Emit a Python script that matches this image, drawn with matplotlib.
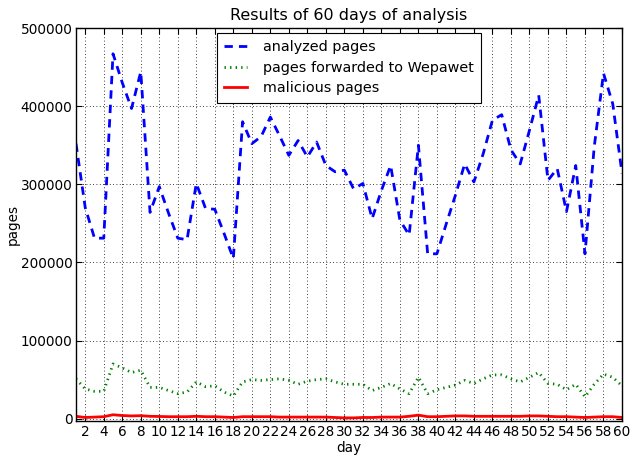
import matplotlib
matplotlib.use("Agg")
import matplotlib.pyplot as plt
import numpy as np

days = list(range(1, 61))
analyzed = [352000, 270000, 231000, 231000, 467000, 430000, 397000, 444000, 264000, 297000,
            263000, 231000, 229000, 301000, 269000, 268000, 237000, 205000, 380000, 352000,
            361000, 386000, 362000, 337000, 356000, 335000, 354000, 324000, 316000, 318000,
            294000, 301000, 256000, 292000, 324000, 254000, 235000, 350000, 211000, 211000,
            249000, 286000, 326000, 303000, 339000, 382000, 389000, 344000, 326000, 369000,
            414000, 305000, 320000, 265000, 324000, 211000, 348000, 442000, 403000, 314000]
forwarded = [51000, 38000, 35000, 35000, 70000, 65000, 59000, 62000, 40000, 40000,
             36000, 32000, 34000, 47000, 41000, 42000, 34000, 29000, 47000, 50000,
             49000, 50000, 51000, 49000, 44000, 48000, 50000, 51000, 47000, 44000,
             44000, 44000, 36000, 40000, 45000, 38000, 32000, 53000, 32000, 37000,
             40000, 43000, 49000, 45000, 51000, 56000, 56000, 51000, 47000, 53000,
             59000, 45000, 44000, 37000, 44000, 28000, 44000, 57000, 53000, 42000]
malicious = [3000, 1500, 2000, 2500, 5000, 4000, 3500, 3800, 3000, 2800,
             2500, 2500, 2500, 3000, 2500, 2500, 2000, 1500, 2500, 2500,
             2500, 2500, 2000, 2000, 2000, 2000, 2000, 2000, 1500, 1000,
             1000, 1500, 1500, 2000, 2000, 2000, 3000, 4500, 2500, 2500,
             3000, 3500, 3500, 3000, 3000, 3000, 3000, 3000, 3000, 3500,
             3500, 3000, 2500, 2500, 2000, 1500, 2000, 2500, 2500, 1500]
xticks = list(range(2, 61, 2))
yticks = [0, 100000, 200000, 300000, 400000, 500000]

fs = 9.8
W, H = 631, 457
fig = plt.figure(figsize=(W/100, H/100), dpi=100)
ax = fig.add_axes([76/W, 1-421/H, (622-76)/W, (421-28)/H])

ax.plot(days, analyzed, color='#0000ff', lw=2, linestyle=(0, (3, 2.2)), label='analyzed pages')
ax.plot(days, forwarded, color='#008000', lw=2, linestyle=(0, (0.5, 1.5)), label='pages forwarded to Wepawet')
ax.plot(days, malicious, color='#ff0000', lw=2, linestyle='-', label='malicious pages')

ax.set_xlim(1, 60)
ax.set_ylim(-3000, 500000)
ax.set_xticks(xticks)
ax.set_xticklabels([str(t) for t in xticks], fontsize=fs)
ax.set_yticks(yticks)
ax.set_yticklabels([str(t) for t in yticks], fontsize=fs)
ax.tick_params(direction='in', top=True, right=True, length=4, width=0.8, pad=3)
ax.tick_params(axis='y', pad=2.5)
ax.grid(True, color='black', linestyle=(0, (1, 3)), linewidth=0.6)
for s in ax.spines.values():
    s.set_linewidth(1.0)

ax.set_title('Results of 60 days of analysis', fontsize=11.5, pad=6)
ax.set_xlabel('day', fontsize=fs, labelpad=1)
ax.set_ylabel('pages', fontsize=fs, labelpad=1)

leg = ax.legend(loc='upper center', fontsize=10.4, fancybox=False, framealpha=1,
                edgecolor='black', handlelength=1.6, handletextpad=1.1,
                borderaxespad=0.35, labelspacing=0.45, borderpad=0.5)
leg.get_frame().set_linewidth(0.8)

fig.savefig('out.png', dpi=100, facecolor='white')
